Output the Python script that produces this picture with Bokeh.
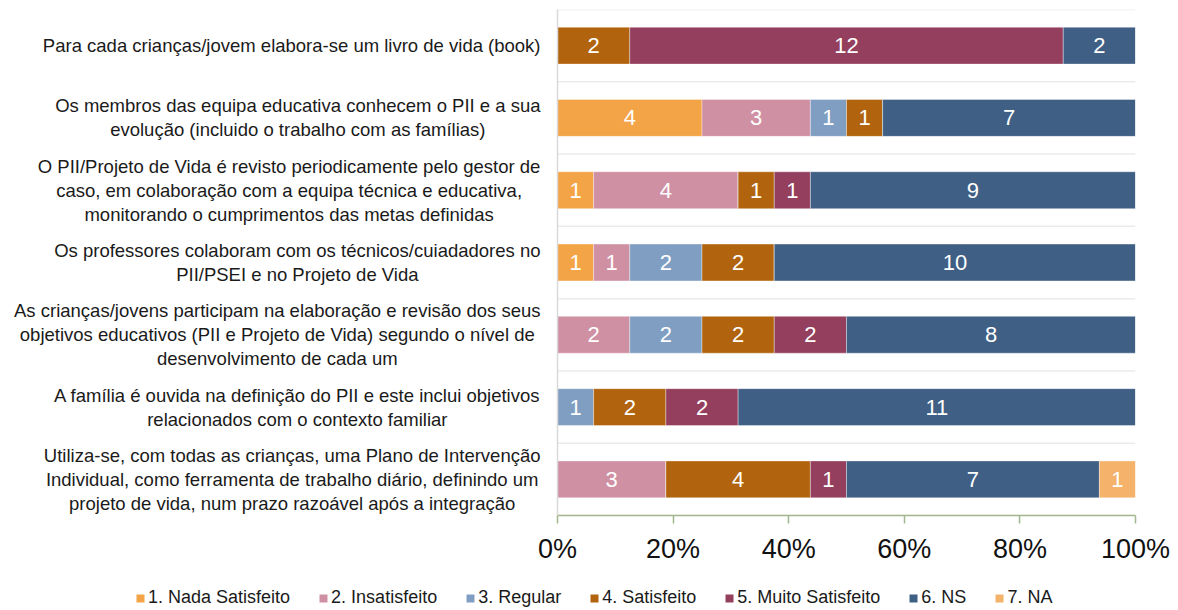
from bokeh.plotting import figure
from bokeh.layouts import column
from bokeh.models import (Range1d, FixedTicker, NumeralTickFormatter, Span,
                          ColumnDataSource, Legend, LegendItem)
from bokeh.embed import file_html
from bokeh.resources import INLINE
from bokeh.core.properties import value

# ---------------- data ----------------
categories = [
    "Para cada crianças/jovem elabora-se um livro de vida (book)",
    "Os membros das equipa educativa conhecem o PII e a sua\nevolução (incluido o trabalho com as famílias)",
    "O PII/Projeto de Vida é revisto periodicamente pelo gestor de\ncaso, em colaboração com a equipa técnica e educativa,\nmonitorando o cumprimentos das metas definidas",
    "Os professores colaboram com os técnicos/cuiadadores no\nPII/PSEI e no Projeto de Vida",
    "As crianças/jovens participam na elaboração e revisão dos seus\nobjetivos educativos (PII e Projeto de Vida) segundo o nível de\ndesenvolvimento de cada um",
    "A família é ouvida na definição do PII e este inclui objetivos\nrelacionados com o contexto familiar",
    "Utiliza-se, com todas as crianças, uma Plano de Intervenção\nIndividual, como ferramenta de trabalho diário, definindo um\nprojeto de vida, num prazo razoável após a integração",
]
series = ["1. Nada Satisfeito", "2. Insatisfeito", "3. Regular", "4. Satisfeito",
          "5. Muito Satisfeito", "6. NS", "7. NA"]
nada_satisfeito = [0, 4, 1, 1, 0, 0, 0]
insatisfeito = [0, 3, 4, 1, 2, 0, 3]
regular = [0, 1, 0, 2, 2, 1, 0]
satisfeito = [2, 1, 1, 2, 2, 2, 4]
muito_satisfeito = [12, 0, 1, 0, 2, 2, 1]
ns = [2, 7, 9, 10, 8, 11, 7]
na = [0, 0, 0, 0, 0, 0, 1]
colors = ["#F2A447", "#D090A4", "#809EC2", "#B1640D", "#943F5D", "#3F5F84", "#F5B26B"]
tick_values = [0.0, 0.2, 0.4, 0.6, 0.8, 1.0]

# ---------------- geometry ----------------
W, H1, H2 = 1178, 575, 35
PL, FR, FT, FB = 557, 1135, 9, 515        # plot area edges in canvas px
FONT = "Liberation Sans"
CAT_FS = 18.5
LINE_H = 24
RIGHT_EDGE = 540

counts = [nada_satisfeito, insatisfeito, regular, satisfeito, muito_satisfeito, ns, na]
n = len(categories)
keys = ["s%d" % k for k in range(len(series))]
totals = [sum(c[i] for c in counts) for i in range(n)]
ypos = [n - 1 - i for i in range(n)]

fw = FR - PL
px_per_unit_y = (FB - FT) / n

data = {"y": ypos}
for k, c in zip(keys, counts):
    data[k] = [c[i] / totals[i] for i in range(n)]
src = ColumnDataSource(data)

# bar value labels
lx, ly, lt = [], [], []
for i in range(n):
    left = 0.0
    for c in counts:
        frac = c[i] / totals[i]
        if c[i] > 0:
            lx.append(left + frac / 2)
            ly.append(ypos[i])
            lt.append(str(c[i]))
        left += frac
lbl_src = ColumnDataSource(dict(x=lx, y=ly, t=lt))

p = figure(width=W, height=H1, output_backend="svg", toolbar_location=None,
           x_range=Range1d(-PL / fw, 1.0), y_range=Range1d(-0.5, n - 0.5),
           min_border_left=0, min_border_right=W - FR,
           min_border_top=FT, min_border_bottom=H1 - FB)
p.outline_line_color = None
p.background_fill_color = "white"
p.yaxis.visible = False
p.xgrid.grid_line_color = None
p.ygrid.grid_line_color = None

# category separators limited to the plot area
gy = [k - 0.5 for k in range(n + 1)]
p.segment(x0=[0.0] * len(gy), x1=[1.0] * len(gy), y0=gy, y1=gy,
          line_color="#EBEBEB", line_width=1.5)
p.add_layout(Span(location=0.0, dimension="height", line_color="#D9D9D9", line_width=1.5))

rs = p.hbar_stack(keys, y="y", height=0.51, color=colors, source=src,
                  line_color="white", line_width=0.6, line_alpha=0.6)

p.text(x="x", y="y", text="t", source=lbl_src, text_color="white",
       text_font=value(FONT), text_font_size="22px",
       text_align="center", text_baseline="middle")

# x axis limited to 0..100%
xa = p.xaxis[0]
xa.bounds = (0.0, 1.0)
xa.ticker = FixedTicker(ticks=tick_values)
xa.formatter = NumeralTickFormatter(format="0%")
xa.major_label_text_font = FONT
xa.major_label_text_font_size = "27px"
xa.major_label_text_color = "#111111"
xa.axis_line_color = "#A3B68E"
xa.axis_line_width = 1.5
xa.major_tick_line_color = "#A3B68E"
xa.major_tick_line_width = 1.5
xa.major_tick_out = 8
xa.major_tick_in = 0
xa.minor_tick_line_color = None
xa.major_label_standoff = 10

# category labels (Arial metric widths, lines centred, block right-aligned)
AW = {' ': 278, 'a': 556, 'b': 556, 'c': 500, 'd': 556, 'e': 556, 'f': 278, 'g': 556,
      'h': 556, 'i': 222, 'j': 222, 'k': 500, 'l': 222, 'm': 833, 'n': 556, 'o': 556,
      'p': 556, 'q': 556, 'r': 333, 's': 500, 't': 278, 'u': 556, 'v': 500, 'w': 722,
      'x': 500, 'y': 500, 'z': 500, 'A': 667, 'B': 667, 'C': 722, 'D': 722, 'E': 667,
      'F': 611, 'G': 778, 'H': 722, 'I': 278, 'J': 500, 'K': 667, 'L': 556, 'M': 833,
      'N': 722, 'O': 778, 'P': 667, 'Q': 778, 'R': 722, 'S': 667, 'T': 611, 'U': 722,
      'V': 667, 'W': 944, 'X': 667, 'Y': 667, 'Z': 611, '/': 278, '(': 333, ')': 333,
      ',': 278, '.': 278, '-': 333, 'ç': 500, 'ã': 556, 'á': 556, 'à': 556, 'â': 556,
      'é': 556, 'ê': 556, 'í': 278, 'ó': 556, 'õ': 556, 'ô': 556, 'ú': 556}


def text_w(s):
    return sum(AW.get(ch, 556) for ch in s) / 1000.0 * CAT_FS


cx_, cy_, ct_ = [], [], []
for i, cat in enumerate(categories):
    lines = cat.split("\n")
    maxw = max(text_w(l) for l in lines)
    xd = (RIGHT_EDGE - maxw / 2 - PL) / fw
    m = len(lines)
    for j, line in enumerate(lines):
        cx_.append(xd)
        cy_.append(ypos[i] - (j - (m - 1) / 2) * LINE_H / px_per_unit_y)
        ct_.append(line)
cat_src = ColumnDataSource(dict(x=cx_, y=cy_, t=ct_))
p.text(x="x", y="y", text="t", source=cat_src, text_color="#1a1a1a",
       text_font=value(FONT), text_font_size="%spx" % CAT_FS,
       text_align="center", text_baseline="middle")

# ---------------- legend strip ----------------
p2 = figure(width=W, height=H2, output_backend="svg", toolbar_location=None,
            x_range=Range1d(0, W), y_range=Range1d(0, H2),
            min_border_left=0, min_border_right=0, min_border_top=0, min_border_bottom=0)
p2.outline_line_color = None
p2.axis.visible = False
p2.grid.grid_line_color = None
proxies = []
for s, c in zip(series, colors):
    proxies.append(p2.rect(x=[-100], y=[-100], width=1, height=1,
                           fill_color=c, line_color=None))
legend = Legend(items=[LegendItem(label=s, renderers=[r]) for s, r in zip(series, proxies)],
                orientation="horizontal", location=(135, 2),
                glyph_width=10, glyph_height=10, label_standoff=3, spacing=28,
                padding=0, margin=0, border_line_color=None,
                background_fill_alpha=0, label_text_font=FONT,
                label_text_font_size="18px", label_text_color="#1a1a1a",
                label_height=20)
p2.add_layout(legend, "center")

layout = column(p, p2, spacing=0)
open("out.html", "w").write(file_html(layout, INLINE))
